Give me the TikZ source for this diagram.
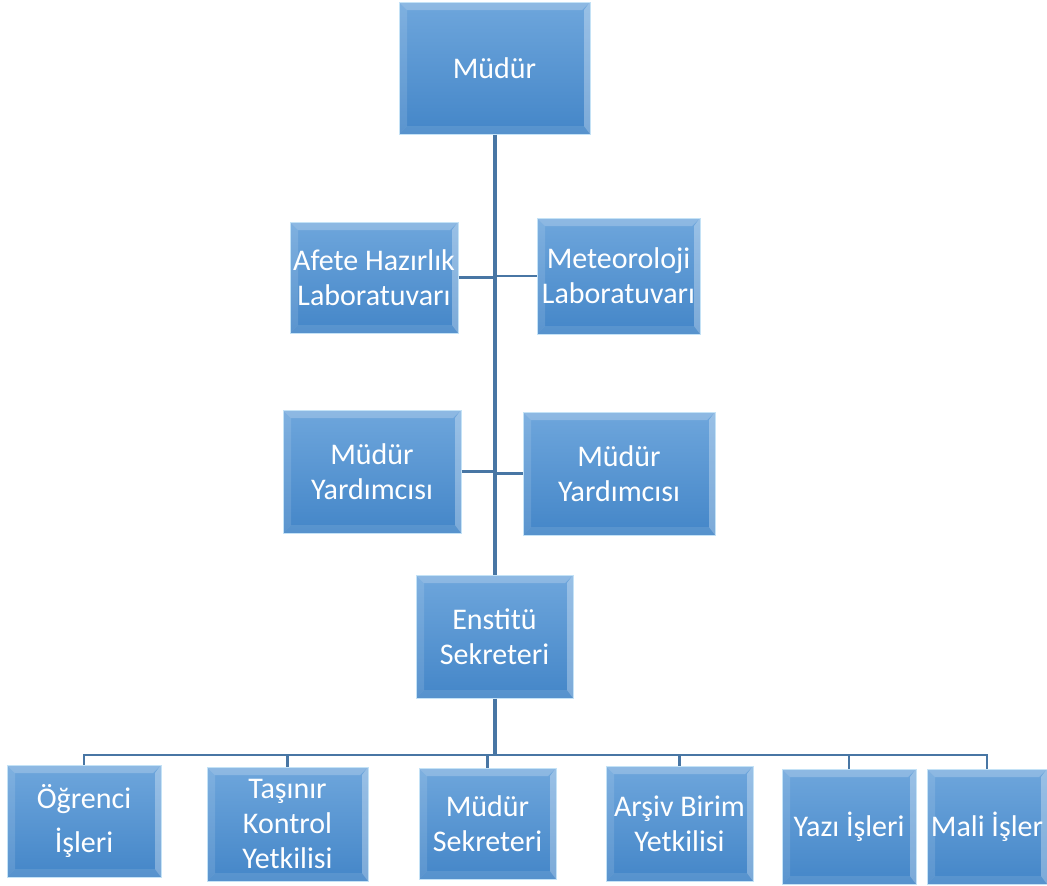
\documentclass[tikz,border=0pt]{standalone}
\usepackage{fontspec}
\setmainfont{Carlito}
\usepackage{tikz}
\usetikzlibrary{positioning}
\definecolor{boxtop}{RGB}{110,166,220}
\definecolor{boxbot}{RGB}{68,134,200}
\definecolor{boxedge}{RGB}{196,226,246}
\definecolor{linkblue}{RGB}{72,118,164}
\tikzset{unit/.style = {rectangle, inner sep=0pt, align=center, text=white,
                        font=\fontsize{30}{35}\selectfont,
                        top color=boxtop, bottom color=boxbot,
                        draw=boxedge, line width=1pt,
                        path picture={
                          \fill[white, opacity=0.22]
                            (path picture bounding box.north west)
                            -- (path picture bounding box.north east)
                            -- ([shift={(-8pt,-8pt)}]path picture bounding box.north east)
                            -- ([shift={(8pt,-8pt)}]path picture bounding box.north west) -- cycle;
                          \fill[white, opacity=0.12]
                            (path picture bounding box.north west)
                            -- ([shift={(8pt,-8pt)}]path picture bounding box.north west)
                            -- ([shift={(8pt,8pt)}]path picture bounding box.south west)
                            -- (path picture bounding box.south west) -- cycle;
                          \fill[white, opacity=0.30]
                            (path picture bounding box.north east)
                            -- ([shift={(-6pt,-8pt)}]path picture bounding box.north east)
                            -- ([shift={(-6pt,8pt)}]path picture bounding box.south east)
                            -- (path picture bounding box.south east) -- cycle;
                          \fill[white, opacity=0.10]
                            (path picture bounding box.south west)
                            -- ([shift={(8pt,8pt)}]path picture bounding box.south west)
                            -- ([shift={(-6pt,8pt)}]path picture bounding box.south east)
                            -- (path picture bounding box.south east) -- cycle;
                        }},
         trunk/.style = {draw=linkblue, line width=4pt},
         branch/.style = {draw=linkblue, line width=2.5pt},
         busline/.style = {draw=linkblue, line width=2.2pt}}

\begin{document}
\begin{tikzpicture}[x=1pt, y=-1pt]
    \useasboundingbox (0, 0) rectangle (1047, 886);

    % head and staff
    \node [unit, minimum width=191pt, minimum height=132pt] (mudur) at (494.5, 68) {Müdür};
    \node [unit, minimum width=168pt, minimum height=111pt] (afete) at (374, 277.5) {Afete Hazırlık\\Laboratuvarı};
    \node [unit, minimum width=163pt, minimum height=116pt] (meteo) at (618.5, 276) {Meteoroloji\\Laboratuvarı};
    \node [unit, minimum width=178pt, minimum height=123pt] (yardsol) at (372, 471.5) {Müdür\\Yardımcısı};
    \node [unit, minimum width=192pt, minimum height=123pt] (yardsag) at (619, 473.5) {Müdür\\Yardımcısı};
    \node [unit, minimum width=157pt, minimum height=123pt] (enstitu) at (494.5, 636.5) {Enstitü\\Sekreteri};

    % units under the secretary
    \node [unit, minimum width=154pt, minimum height=112pt] (ogrenci) at (84, 821) {Öğrenci\\[9pt]İşleri};
    \node [unit, minimum width=161pt, minimum height=114pt] (tasinir) at (287.5, 824) {Taşınır\\Kontrol\\Yetkilisi};
    \node [unit, minimum width=137pt, minimum height=111pt] (mudursek) at (487.5, 823.5) {Müdür\\Sekreteri};
    \node [unit, minimum width=147pt, minimum height=115pt] (arsiv) at (679.5, 823.5) {Arşiv Birim\\Yetkilisi};
    \node [unit, minimum width=134pt, minimum height=115pt] (yazi) at (849, 826.5) {Yazı İşleri};
    \node [unit, minimum width=120pt, minimum height=115pt] (mali) at (987, 826.5) {Mali İşler};

    \coordinate (bus) at (494.5, 755);

    \draw [trunk] (mudur.south) -- (enstitu.north);
    \draw [branch] (afete.east) -- (afete.east -| mudur.south);
    \draw [branch] (meteo.west) -- (meteo.west -| mudur.south);
    \draw [branch] (yardsol.east) -- (yardsol.east -| mudur.south);
    \draw [branch] (yardsag.west) -- (yardsag.west -| mudur.south);

    \draw [trunk] (enstitu.south) -- (bus);
    \foreach \u in {ogrenci, tasinir, mudursek, arsiv, yazi, mali}
        \draw [busline] (\u.north) |- (bus);
\end{tikzpicture}
\end{document}
